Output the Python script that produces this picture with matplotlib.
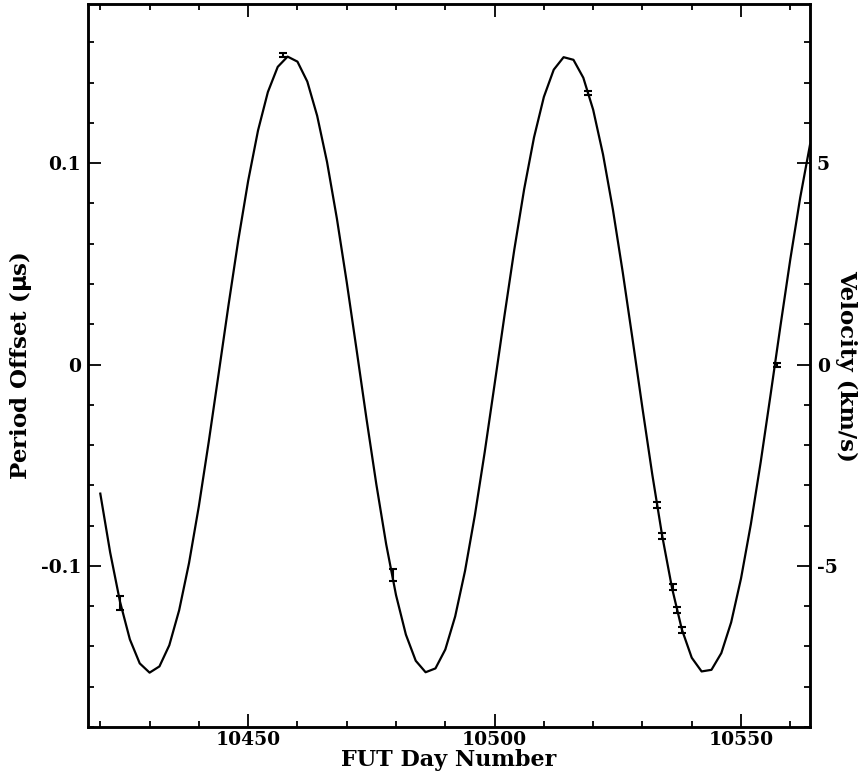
import numpy as np
import matplotlib
matplotlib.use("Agg")
import matplotlib.pyplot as plt
from matplotlib.ticker import MultipleLocator, FixedLocator

# fitted orbit curve, every 2 days
fit_day = np.arange(10420, 10565, 2)
fit_offset = [
    -0.0641, -0.0933, -0.1178, -0.1365, -0.1484, -0.1530, -0.1499, -0.1394,
    -0.1220, -0.0986, -0.0703, -0.0384, -0.0047, 0.0293, 0.0618, 0.0912,
    0.1162, 0.1353, 0.1478, 0.1529, 0.1504, 0.1405, 0.1235, 0.1006,
    0.0725, 0.0409, 0.0073, -0.0268, -0.0594, -0.0892, -0.1145, -0.1341,
    -0.1471, -0.1528, -0.1509, -0.1415, -0.1251, -0.1025, -0.0748, -0.0434,
    -0.0098, 0.0242, 0.0571, 0.0871, 0.1128, 0.1329, 0.1464, 0.1526,
    0.1513, 0.1424, 0.1265, 0.1043, 0.0770, 0.0458, 0.0124, -0.0217,
    -0.0547, -0.0850, -0.1110, -0.1316, -0.1456, -0.1524, -0.1516, -0.1433,
    -0.1280, -0.1062, -0.0792, -0.0483, -0.0149, 0.0192, 0.0523, 0.0828,
    0.1092,
]

# measured period offsets (microseconds) with errors
obs_day = [10424.0, 10457.1, 10479.3, 10519.0, 10533.0, 10534.0, 10536.1,
           10537.0, 10538.0, 10557.3]
obs_offset = [-0.1185, 0.1537, -0.1045, 0.1348, -0.0699, -0.0850, -0.1106,
              -0.1221, -0.1320, 0.0]
obs_err = [0.0035, 0.0012, 0.003, 0.001, 0.0015, 0.0015, 0.0015, 0.0015,
           0.0015, 0.001]

kms_per_us = 50.0   # 0.1 us <-> 5 km/s

plt.rcParams['font.family'] = ['DejaVu Serif']
plt.rcParams['font.weight'] = 'bold'
plt.rcParams['mathtext.default'] = 'bf'

fig = plt.figure(figsize=(8.6, 7.74), dpi=100)
ax = fig.add_axes([0.1023, 0.0607, 0.8396, 0.9341])

ax.plot(fit_day, fit_offset, color='black', lw=1.6)
ax.errorbar(obs_day, obs_offset, yerr=obs_err, fmt='none', ecolor='black',
            elinewidth=1.5, capsize=3, capthick=1.5)

ax.set_xlim(10417.5, 10564)
ax.set_ylim(-0.18, 0.179)
ax.xaxis.set_major_locator(MultipleLocator(50))
ax.xaxis.set_minor_locator(MultipleLocator(10))
ax.yaxis.set_major_locator(FixedLocator([-0.1, 0, 0.1]))
ax.yaxis.set_minor_locator(MultipleLocator(0.02))
ax.set_yticklabels(['-0.1', '0', '0.1'])

ax.tick_params(which='both', direction='in', top=True, right=False, width=1.3,
               labelsize=13.5)
ax.tick_params(which='major', length=9.5)
ax.tick_params(which='minor', length=4.5)
ax.tick_params(axis='y', pad=5)
ax.tick_params(axis='x', pad=3)

ax2 = ax.twinx()
ax2.set_ylim(-0.18 * kms_per_us, 0.179 * kms_per_us)
ax2.yaxis.set_major_locator(FixedLocator([-5, 0, 5]))
ax2.yaxis.set_minor_locator(MultipleLocator(1))
ax2.set_yticklabels(['-5', '0', '5'])
ax2.tick_params(which='both', direction='in', width=1.3, labelsize=13.5)
ax2.tick_params(which='major', length=9.5, pad=5)
ax2.tick_params(which='minor', length=4.5)

for a in (ax, ax2):
    for s in a.spines.values():
        s.set_linewidth(1.8)

ax.set_xlabel('FUT Day Number', fontsize=16, fontweight='bold', labelpad=0)
ax.set_ylabel(r'Period Offset ($\mu$s)', fontsize=16.5, fontweight='bold',
              labelpad=5)
ax2.set_ylabel('Velocity (km/s)', fontsize=16.5, fontweight='bold',
               rotation=270, labelpad=14)

fig.savefig('out.png', dpi=100)
